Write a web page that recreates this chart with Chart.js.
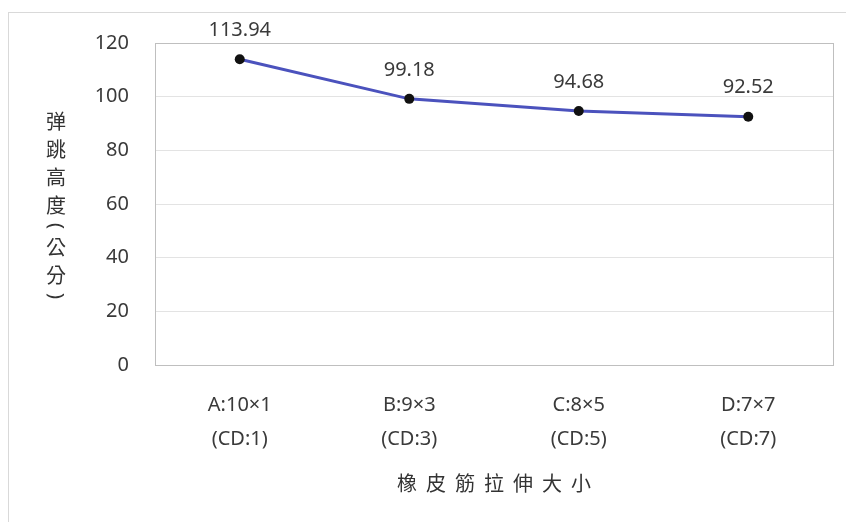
<!DOCTYPE html>
<html>
<head>
<meta charset="utf-8">
<script src="https://cdn.jsdelivr.net/npm/chart.js@4.4.1/dist/chart.umd.min.js"></script>
<style>
  html, body { margin: 0; padding: 0; background: #fff; }
  #wrap { width: 846px; height: 522px; position: relative; }
</style>
</head>
<body>
<div id="wrap"><canvas id="chart" width="846" height="522"></canvas></div>
<script>
const categories = [["A:10×1", "(CD:1)"], ["B:9×3", "(CD:3)"], ["C:8×5", "(CD:5)"], ["D:7×7", "(CD:7)"]];
const bounceHeight = [113.94, 99.18, 94.68, 92.52];
const yTicks = [0, 20, 40, 60, 80, 100, 120];
const yTitle = ["弹", "跳", "高", "度", "(", "公", "分", ")"];
const xTitle = "橡皮筋拉伸大小";

const textColor = "#3a3a3a";
const tickFont = { family: "'Noto Sans', sans-serif", size: 20, lineHeight: 1.7 };

// frame, axis titles and value labels
const extras = {
	id: "extras",
	beforeDraw(chart) {
		const ctx = chart.ctx;
		ctx.save();
		ctx.strokeStyle = "#d9d9d9";
		ctx.lineWidth = 1;
		ctx.strokeRect(8.5, 12.5, 860, 530);
		ctx.restore();
	},
	afterDraw(chart) {
		const ctx = chart.ctx;
		const area = chart.chartArea;
		ctx.save();
		ctx.strokeStyle = "#bfbfbf";
		ctx.lineWidth = 1;
		ctx.strokeRect(area.left + 0.5, area.top + 0.5, area.right - area.left, area.bottom - area.top);
		ctx.restore();

		ctx.save();
		ctx.fillStyle = "#333";
		ctx.font = "20px 'Noto Sans CJK TC'";
		ctx.textAlign = "center";
		ctx.textBaseline = "middle";
		const isParen = c => c === "(" || c === ")";
		let y = 121;
		yTitle.forEach((c, i) => {
			if (i > 0) y += isParen(c) || isParen(yTitle[i - 1]) ? 21 : 28;
			if (isParen(c)) {
				// vertical text: parentheses turned a quarter
				ctx.save();
				ctx.translate(56, y);
				ctx.rotate(Math.PI / 2);
				ctx.font = "20px 'Noto Sans', sans-serif";
				ctx.fillText(c, 0, 0);
				ctx.restore();
			} else {
				ctx.fillText(c, 56, y);
			}
		});
		const step = 29;
		const x0 = (area.left + area.right) / 2 - step * (xTitle.length - 1) / 2;
		for (let i = 0; i < xTitle.length; i++) ctx.fillText(xTitle[i], x0 + i * step, 483);
		ctx.restore();

		ctx.save();
		ctx.fillStyle = textColor;
		ctx.font = "20px 'Noto Sans', sans-serif";
		ctx.textAlign = "center";
		ctx.textBaseline = "middle";
		const meta = chart.getDatasetMeta(0);
		meta.data.forEach((pt, i) => {
			ctx.fillText(bounceHeight[i].toFixed(2), pt.x, pt.y - 29);
		});
		ctx.restore();
	},
};

new Chart(document.getElementById("chart"), {
	type: "line",
	data: {
		labels: categories,
		datasets: [
			{
				data: bounceHeight,
				borderColor: "#4b52bd",
				borderWidth: 3,
				pointRadius: 5,
				pointBackgroundColor: "#111",
				pointBorderColor: "#111",
				pointBorderWidth: 0,
				tension: 0,
			},
		],
	},
	options: {
		responsive: false,
		animation: false,
		layout: { padding: { top: 43, right: 13, left: 0, bottom: 0 } },
		plugins: { legend: { display: false }, tooltip: { enabled: false } },
		scales: {
			x: {
				offset: true,
				grid: { display: false, drawTicks: false },
				border: { color: "#bfbfbf" },
				ticks: { color: textColor, font: tickFont, padding: 23, maxRotation: 0 },
				afterFit(scale) { scale.height = 157; },
			},
			y: {
				min: 0,
				max: 120,
				afterBuildTicks(scale) { scale.ticks = yTicks.map(v => ({ value: v })); },
				grid: { color: "#e3e3e3", drawTicks: false },
				border: { display: false },
				ticks: { color: textColor, font: { family: "'Noto Sans', sans-serif", size: 20 }, padding: 26 },
				afterFit(scale) { scale.width = 155; },
			},
		},
	},
	plugins: [extras],
});
</script>
</body>
</html>
